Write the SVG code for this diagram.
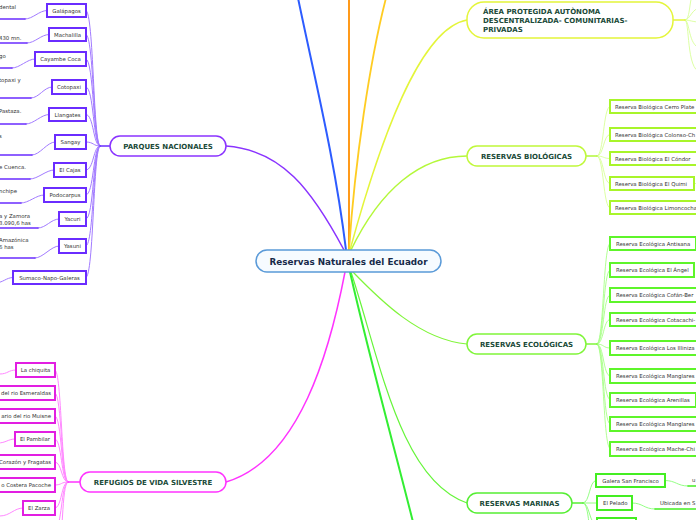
<svg xmlns="http://www.w3.org/2000/svg" width="696" height="520" viewBox="0 0 696 520">
<style>
text{font-family:"DejaVu Sans","Verdana",sans-serif}
.main{font-size:7px;font-weight:bold;fill:#1a4a38}
.ch{font-size:5.4px;fill:#333}
.lf{font-size:5.4px;fill:#333}
.box{fill:#fff;stroke-width:2}
.pill{fill:#fff;stroke-width:1.5}
.pu{stroke:#6a2cff}.pul{stroke:#a27bff}
.mg{stroke:#e21ee2}.mgl{stroke:#ff88ff}
.yb{stroke:#a8f52a}.ybl{stroke:#d8ff99}
.ge{stroke:#5ef52a}.gel{stroke:#a8ff88}
.gm{stroke:#44ee22}.gml{stroke:#88ff77}
</style>
<rect width="696" height="520" fill="#fff"/>
<g id="connectors" fill="none" stroke-linecap="round">
<path d="M346 250 C335 160 315 80 298 -2" stroke="#2d5cff" stroke-width="2"/>
<path d="M349 250 L349 -2" stroke="#ff9a1a" stroke-width="2"/>
<path d="M349 250 C355 160 370 60 386 -2" stroke="#ffcc22" stroke-width="1.8"/>
<path d="M350 250 C380 140 420 28 467 20" stroke="#e4f53a" stroke-width="1.5"/>
<path d="M351 250 C380 190 420 156 467 156" stroke="#b4f83a" stroke-width="1.5"/>
<path d="M344 250 C312 190 282 150 226 146" stroke="#8a33ff" stroke-width="1.5"/>
<path d="M345 272 C330 350 300 460 226 482" stroke="#ff33ff" stroke-width="1.5"/>
<path d="M352 271 C380 300 420 340 467 344" stroke="#80f53a" stroke-width="1.2"/>
<path d="M351 272 C380 360 400 480 467 503" stroke="#66f53a" stroke-width="1.2"/>
<path d="M350 272 C370 360 395 450 413 522" stroke="#33ee33" stroke-width="2"/>
<g class="pul" stroke-width="1">
<path d="M100 146 C93 146 94 10.5 86 10.5"/>
<path d="M100 146 C93 146 94 34.5 86 34.5"/>
<path d="M100 146 C93 146 94 59 86 59"/>
<path d="M100 146 C93 146 94 87 86 87"/>
<path d="M100 146 C93 146 94 114.5 86 114.5"/>
<path d="M100 146 C93 146 94 142 86 142"/>
<path d="M100 146 C93 146 94 170 86 170"/>
<path d="M100 146 C93 146 94 195 86 195"/>
<path d="M100 146 C93 146 94 219 86 219"/>
<path d="M100 146 C93 146 94 246 86 246"/>
<path d="M100 146 C93 146 94 277.5 86 277.5"/>
<path d="M47 10.5 C39 10.5 33 19 25 19"/>
<path d="M49 34.5 C41 34.5 35 43 27 43"/>
<path d="M35 59 C27 59 20 68 12 68"/>
<path d="M52 87 C44 87 39 98 31 98"/>
<path d="M49 114.5 C41 114.5 34 124 26 124"/>
<path d="M55 142 C47 142 40 155 32 155"/>
<path d="M54 170 C46 170 38 179 30 179"/>
<path d="M44 195 C36 195 29 203 21 203"/>
<path d="M59 219 C51 219 46 228 38 228"/>
<path d="M59 246 C51 246 43 258 35 258"/>
<path d="M13 277.5 C6 277.5 3 283 -5 283"/>
</g>
<g class="pu" stroke-width="1.6">
<path d="M110 146 L100 146"/>
<path d="M25 19 L-2 19"/><path d="M27 43 L-2 43"/><path d="M12 68 L-2 68"/><path d="M31 98 L-2 98"/>
<path d="M26 124 L-2 124"/><path d="M32 155 L-2 155"/><path d="M30 179 L-2 179"/><path d="M21 203 L-2 203"/>
<path d="M38 228 L-2 228"/><path d="M35 258 L-2 258"/>
</g>
<g class="mgl" stroke-width="1">
<path d="M68 482 C61 482 62 370 55 370"/>
<path d="M68 482 C61 482 62 393 55 393"/>
<path d="M68 482 C61 482 62 416 55 416"/>
<path d="M68 482 C61 482 62 439 55 439"/>
<path d="M68 482 C61 482 62 462 55 462"/>
<path d="M68 482 C61 482 62 485 55 485"/>
<path d="M68 482 C61 482 62 508 55 508"/>
<path d="M68 482 C61 482 62 530 55 530"/>
<path d="M68 482 C61 482 64 550 57 550"/>
<path d="M16 370 C8 370 8 374 0 374"/>
<path d="M15 439 C8 439 6 443 -2 443"/>
<path d="M23 508 C14 508 10 516 0 516"/>
</g>
<path d="M80 482 L68 482" stroke="#ff33ff" stroke-width="1.6"/>
<g class="ybl" stroke-width="0.9">
<path d="M685 20 C690 20 689 4 692 -4"/>
<path d="M685 20 C690 20 692 8 700 8"/>
<path d="M685 20 C690 20 692 22 700 22"/>
<path d="M685 20 C690 20 688 46 700 48"/>
<path d="M685 20 C690 20 686 70 700 72"/>
<path d="M597 156 C604 156 603 106.5 610 106.5"/>
<path d="M597 156 C604 156 603 134.5 610 134.5"/>
<path d="M597 156 C604 156 603 158.5 610 158.5"/>
<path d="M597 156 C604 156 603 183.5 610 183.5"/>
<path d="M597 156 C604 156 603 208 610 208"/>
<path d="M694 183.5 L700 183.5"/>
</g>
<path d="M586 156 L597 156" stroke="#b4f83a" stroke-width="1.6"/>
<path d="M673 20 L685 20" stroke="#e4f53a" stroke-width="1.6"/>
<g class="gel" stroke-width="0.9">
<path d="M597 344 C604 344 603 243.5 610 243.5"/>
<path d="M597 344 C604 344 603 270 610 270"/>
<path d="M597 344 C604 344 603 295 610 295"/>
<path d="M597 344 C604 344 603 319.5 610 319.5"/>
<path d="M597 344 C604 344 603 348 610 348"/>
<path d="M597 344 C604 344 603 376 610 376"/>
<path d="M597 344 C604 344 603 399.5 610 399.5"/>
<path d="M597 344 C604 344 603 424 610 424"/>
<path d="M597 344 C604 344 603 448.5 610 448.5"/>
</g>
<path d="M586 344 L597 344" stroke="#80f53a" stroke-width="1.6"/>
<g class="gml" stroke-width="0.9">
<path d="M583 503 C590 503 589 480.5 596 480.5"/>
<path d="M583 503 L597 503"/>
<path d="M583 503 C590 503 589 525 597 525"/>
<path d="M583 503 C590 503 588 540 594 545"/>
<path d="M665 480.5 C676 480.5 677 486 688 486"/>
<path d="M632 503 C643 503 644 509 655 509"/>
</g>
<path d="M572 503 L583 503" stroke="#55ee33" stroke-width="1.6"/>
<path d="M688 486 L700 486 M655 509 L700 509" stroke="#44ee22" stroke-width="1.6"/>
</g>
<g id="center">
<rect x="256" y="250" width="185" height="22" rx="11" fill="#f6fbff" stroke="#5a9ad8" stroke-width="1.5"/>
<text x="348.5" y="264.5" text-anchor="middle" font-size="8.8" font-weight="bold" fill="#172a4a">Reservas Naturales del Ecuador</text>
</g>
<g id="parques">
<rect class="pill" x="110" y="136" width="116" height="20" rx="10" stroke="#8a33ff"/>
<text class="main" x="168" y="148.5" text-anchor="middle">PARQUES NACIONALES</text>
</g>
<g id="galapagos"><rect class="box pu" x="47" y="4" width="39" height="13"/><text class="ch" x="66.5" y="12.5" text-anchor="middle">Galápagos</text><text class="lf" x="-1" y="9">dental</text></g>
<g id="machalilla"><rect class="box pu" x="49" y="28" width="37" height="13"/><text class="ch" x="67.5" y="36.5" text-anchor="middle">Machalilla</text><text class="lf" x="-1" y="40">430 mn.</text></g>
<g id="cayambe"><rect class="box pu" x="35" y="52" width="51" height="14"/><text class="ch" x="60.5" y="61" text-anchor="middle">Cayambe Coca</text><text class="lf" x="-1" y="58">go</text></g>
<g id="cotopaxi"><rect class="box pu" x="52" y="80" width="34" height="14"/><text class="ch" x="69" y="89" text-anchor="middle">Cotopaxi</text><text class="lf" x="-1" y="82">topaxi y</text></g>
<g id="llangates"><rect class="box pu" x="49" y="108" width="37" height="13"/><text class="ch" x="67.5" y="116.5" text-anchor="middle">Llangates</text><text class="lf" x="-1" y="113">Pastaza.</text></g>
<g id="sangay"><rect class="box pu" x="55" y="135" width="31" height="14"/><text class="ch" x="70.5" y="144" text-anchor="middle">Sangay</text><text class="lf" x="-1" y="138">s</text></g>
<g id="cajas"><rect class="box pu" x="54" y="163" width="32" height="14"/><text class="ch" x="70" y="172" text-anchor="middle">El Cajas</text><text class="lf" x="-1" y="169">e Cuenca.</text></g>
<g id="podocarpus"><rect class="box pu" x="44" y="188" width="42" height="14"/><text class="ch" x="65" y="197" text-anchor="middle">Podocarpus</text><text class="lf" x="-1" y="193">nchipe</text></g>
<g id="yacuri"><rect class="box pu" x="59" y="212" width="27" height="14"/><text class="ch" x="72.5" y="221" text-anchor="middle">Yacuri</text><text class="lf" x="-1" y="218">a y Zamora</text><text class="lf" x="-1" y="225">3.090,6 has</text></g>
<g id="yasuni"><rect class="box pu" x="59" y="239" width="27" height="14"/><text class="ch" x="72.5" y="248" text-anchor="middle">Yasuni</text><text class="lf" x="-1" y="242">Amazónica</text><text class="lf" x="-1" y="249">6 has</text></g>
<g id="sumaco"><rect class="box pu" x="13" y="271" width="73" height="13"/><text class="ch" x="49.5" y="279.5" text-anchor="middle">Sumaco-Napo-Galeras</text></g>
<g id="refugios">
<rect class="pill" x="80" y="472" width="146" height="20" rx="10" stroke="#ff33ff"/>
<text class="main" x="153" y="484.5" text-anchor="middle">REFUGIOS DE VIDA SILVESTRE</text>
</g>
<g id="chiquita"><rect class="box mg" x="16" y="363" width="39" height="14"/><text class="ch" x="35.5" y="372" text-anchor="middle">La chiquita</text></g>
<g id="esmeraldas"><rect class="box mg" x="-10" y="386" width="65" height="14"/><text class="ch" x="51" y="395" text-anchor="end">del rio Esmeraldas</text></g>
<g id="muisne"><rect class="box mg" x="-10" y="409" width="65" height="14"/><text class="ch" x="51" y="418" text-anchor="end">ario del rio Muisne</text></g>
<g id="pambilar"><rect class="box mg" x="15" y="432" width="40" height="14"/><text class="ch" x="35" y="441" text-anchor="middle">El Pambilar</text></g>
<g id="corazon"><rect class="box mg" x="-10" y="455" width="65" height="14"/><text class="ch" x="51" y="464" text-anchor="end">Corazón y Fragatas</text></g>
<g id="pacoche"><rect class="box mg" x="-10" y="478" width="65" height="14"/><text class="ch" x="51" y="487" text-anchor="end">o Costera Pacoche</text></g>
<g id="zarza"><rect class="box mg" x="23" y="501" width="32" height="14"/><text class="ch" x="39" y="510" text-anchor="middle">El Zarza</text></g>
<g id="area">
<rect class="pill" x="467" y="2" width="206" height="36" rx="17" stroke="#e4f53a"/>
<text class="main" x="483" y="14">ÁREA PROTEGIDA AUTÒNOMA</text>
<text class="main" x="483" y="23">DESCENTRALIZADA- COMUNITARIAS-</text>
<text class="main" x="483" y="31.5">PRIVADAS</text>
</g>
<g id="biologicas">
<rect class="pill" x="467" y="146" width="119" height="20" rx="10" stroke="#c0f83a"/>
<text class="main" x="526.5" y="158.5" text-anchor="middle">RESERVAS BIOLÓGICAS</text>
</g>
<g id="b1"><rect class="box yb" x="610" y="100" width="90" height="13"/><text class="ch" x="615" y="108.5">Reserva Biológica Cerro Plate</text></g>
<g id="b2"><rect class="box yb" x="610" y="128" width="90" height="13"/><text class="ch" x="615" y="136.5">Reserva Biológica Colonso-Ch</text></g>
<g id="b3"><rect class="box yb" x="610" y="152" width="90" height="13"/><text class="ch" x="615" y="160.5">Reserva Biológica El Cóndor</text></g>
<g id="b4"><rect class="box yb" x="610" y="177" width="84" height="13"/><text class="ch" x="615" y="185.5">Reserva Biológica El Quimi</text></g>
<g id="b5"><rect class="box yb" x="610" y="201" width="90" height="13"/><text class="ch" x="615" y="209.5">Reserva Biológica Limoncocha</text></g>
<g id="ecologicas">
<rect class="pill" x="467" y="334" width="119" height="20" rx="10" stroke="#80f53a"/>
<text class="main" x="526.5" y="346.5" text-anchor="middle">RESERVAS ECOLÓGICAS</text>
</g>
<g id="e1"><rect class="box ge" x="610" y="237" width="86" height="13"/><text class="ch" x="616" y="245.5">Reserva Ecológica Antisana</text></g>
<g id="e2"><rect class="box ge" x="610" y="263" width="84" height="14"/><text class="ch" x="616" y="272">Reserva Ecológica El Ángel</text></g>
<g id="e3"><rect class="box ge" x="610" y="288" width="90" height="14"/><text class="ch" x="616" y="297">Reserva Ecológica Cofán-Ber</text></g>
<g id="e4"><rect class="box ge" x="610" y="313" width="90" height="13"/><text class="ch" x="616" y="321.5">Reserva Ecológica Cotacachi-</text></g>
<g id="e5"><rect class="box ge" x="610" y="341" width="90" height="14"/><text class="ch" x="616" y="350">Reserva Ecológica Los Illiniza</text></g>
<g id="e6"><rect class="box ge" x="610" y="369" width="90" height="14"/><text class="ch" x="616" y="378">Reserva Ecológica Manglares</text></g>
<g id="e7"><rect class="box ge" x="610" y="393" width="86" height="14"/><text class="ch" x="616" y="402">Reserva Ecológica Arenillas</text></g>
<g id="e8"><rect class="box ge" x="610" y="417" width="90" height="14"/><text class="ch" x="616" y="426">Reserva Ecológica Manglares</text></g>
<g id="e9"><rect class="box ge" x="610" y="442" width="90" height="14"/><text class="ch" x="616" y="451">Reserva Ecológica Mache-Chi</text></g>
<g id="marinas">
<rect class="pill" x="467" y="493" width="105" height="20" rx="10" stroke="#55ee33"/>
<text class="main" x="519.5" y="505.5" text-anchor="middle">RESERVAS MARINAS</text>
</g>
<g id="m1"><rect class="box gm" x="596" y="474" width="69" height="13"/><text class="ch" x="630.5" y="482.5" text-anchor="middle">Galera San Francisco</text><text class="lf" x="692" y="482">u</text></g>
<g id="m2"><rect class="box gm" x="597" y="496" width="35" height="14"/><text class="ch" x="603" y="505">El Pelado</text><text class="lf" x="660" y="504.5">Ubicada en S</text></g>
<g id="m3"><rect class="box gm" x="597" y="518" width="39" height="14"/></g>
</svg>
